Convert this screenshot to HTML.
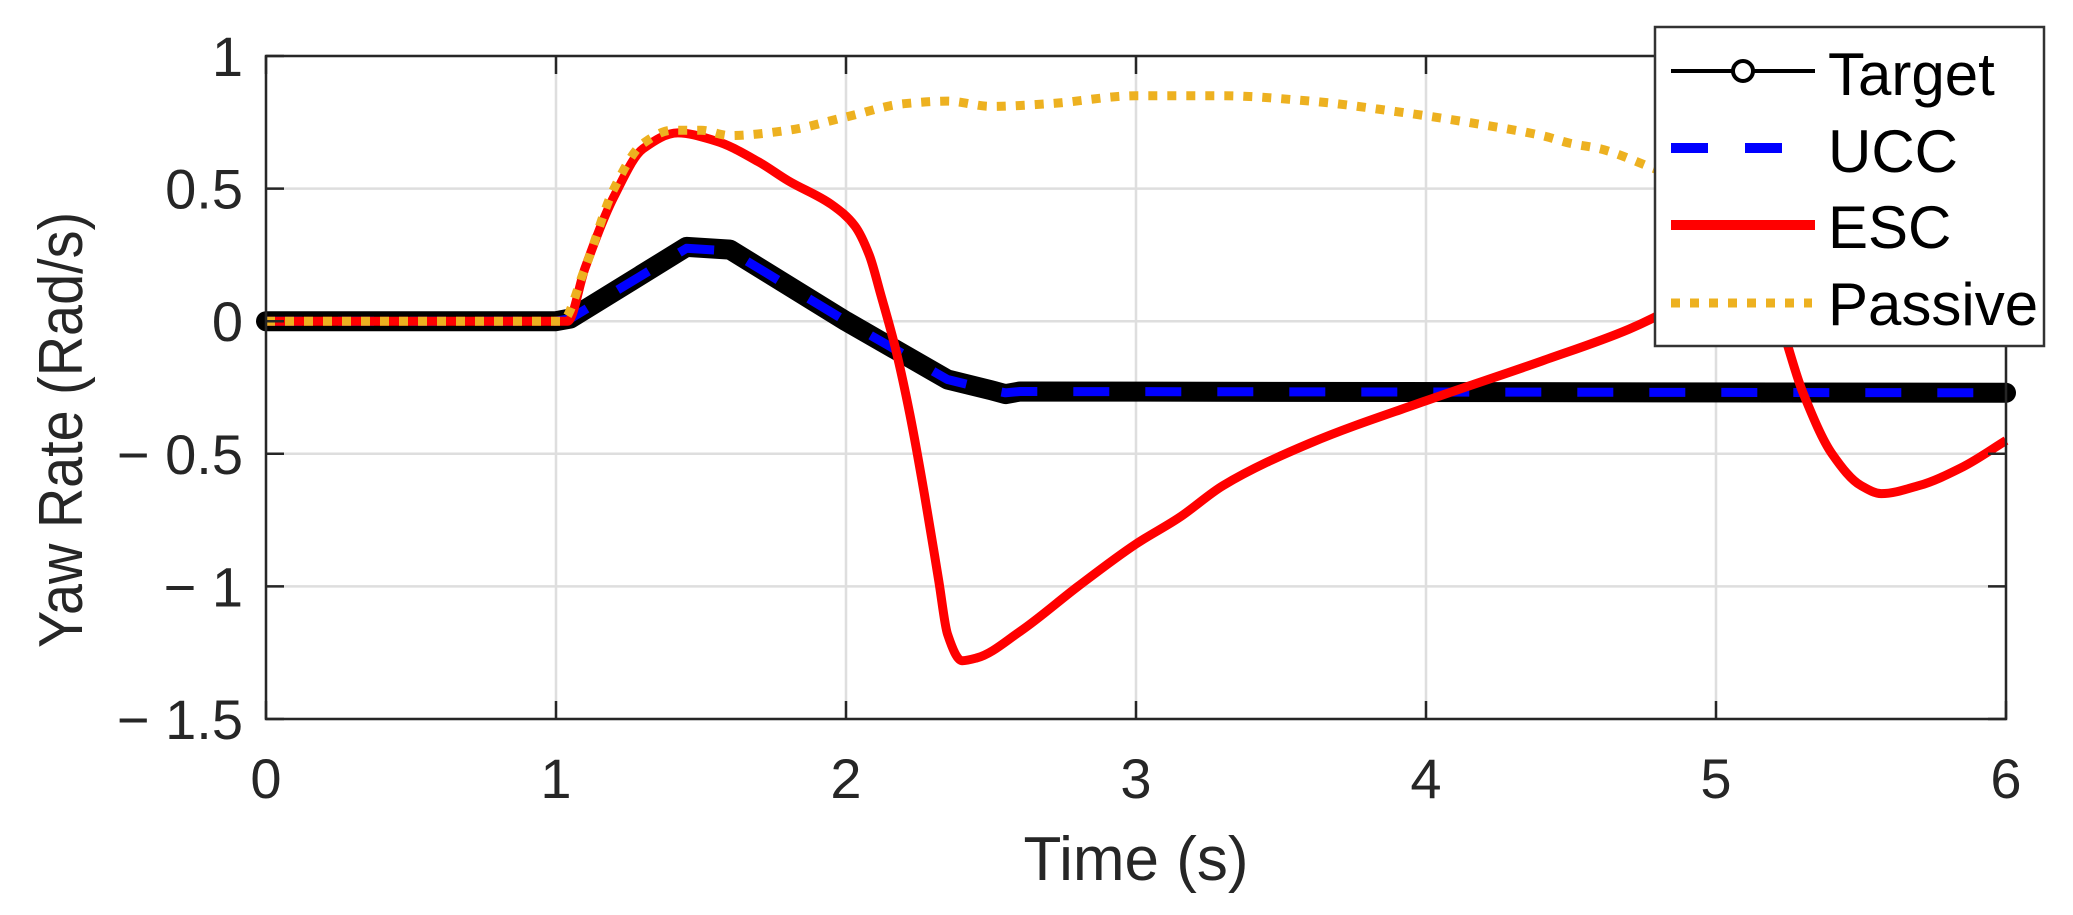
<!DOCTYPE html>
<html><head><meta charset="utf-8"><style>
html,body{margin:0;padding:0;background:#fff;}
svg{display:block;font-family:"Liberation Sans",Arial,sans-serif;}
</style></head><body>
<svg id="chart" width="2073" height="915" viewBox="0 0 2073 915" xmlns="http://www.w3.org/2000/svg">
<rect width="2073" height="915" fill="#fff"/>
<g id="grid"></g>
<g id="series"></g>
<rect x="266" y="56" width="1740" height="663" fill="none" stroke="#262626" stroke-width="2.5"/>
<g id="ticks"></g>
<text x="1136" y="880" font-size="62" text-anchor="middle" fill="#262626">Time (s)</text>
<text transform="translate(82,430) rotate(-90) scale(0.9,1)" font-size="62" text-anchor="middle" fill="#262626">Yaw Rate (Rad/s)</text>
<g>
<rect x="1655" y="27" width="389" height="319" fill="#fff" stroke="#333" stroke-width="2.5"/>
<g>
<line x1="1671" y1="71" x2="1815" y2="71" stroke="#000" stroke-width="4"/>
<circle cx="1743" cy="71" r="10" fill="#fff" stroke="#000" stroke-width="4"/>
<text x="1828" y="95" font-size="60" fill="#000">Target</text></g>
<g>
<line x1="1671" y1="148" x2="1783" y2="148" stroke="#0000ff" stroke-width="10" stroke-dasharray="37 37"/>
<text x="1828" y="172" font-size="60" fill="#000">UCC</text></g>
<g>
<line x1="1671" y1="225" x2="1815" y2="225" stroke="#ff0000" stroke-width="10"/>
<text x="1828" y="248" font-size="60" fill="#000">ESC</text></g>
<g>
<line x1="1671" y1="303" x2="1812" y2="303" stroke="#edb120" stroke-width="9" stroke-dasharray="9 10"/>
<text x="1828" y="325" font-size="60" fill="#000">Passive</text></g>
</g>
</svg>
<script>
const xTicks=[0,1,2,3,4,5,6];
const yTicks=[1,0.5,0,-0.5,-1,-1.5];
const yTickLabels=["1","0.5","0","\u2212 0.5","\u2212 1","\u2212 1.5"];
const targetT=[0,1.0,1.05,1.45,1.6,2.0,2.35,2.5,2.55,2.6,6];
const targetV=[0,0,0.01,0.28,0.27,0.0,-0.22,-0.26,-0.275,-0.265,-0.27];
const uccT=[0,1.0,1.05,1.45,1.6,2.0,2.35,2.5,2.55,2.6,6];
const uccV=[0,0,0.01,0.275,0.265,0.0,-0.22,-0.26,-0.27,-0.265,-0.27];
const escT=[0,1.04,1.1,1.2,1.3,1.42,1.55,1.7,1.8,1.95,2.03,2.08,2.12,2.17,2.22,2.27,2.32,2.35,2.4,2.45,2.6,2.8,3.0,3.15,3.3,3.6,4.0,4.4,4.7,4.85,5.0,5.1,5.2,5.3,5.4,5.5,5.57,5.7,5.85,6];
const escV=[0,0,0.2,0.47,0.65,0.71,0.68,0.6,0.53,0.44,0.36,0.25,0.1,-0.1,-0.35,-0.65,-0.98,-1.18,-1.28,-1.27,-1.17,-1.0,-0.84,-0.74,-0.62,-0.46,-0.3,-0.15,-0.03,0.05,0.15,0.2,0.05,-0.27,-0.5,-0.62,-0.65,-0.62,-0.55,-0.45];
const passiveT=[0,1.02,1.1,1.2,1.3,1.4,1.5,1.6,1.8,2.0,2.2,2.35,2.5,2.7,3.0,3.3,3.6,3.9,4.2,4.4,4.5,4.6,4.8,4.9,5.2,5.6,6];
const passiveV=[0,0,0.2,0.5,0.67,0.72,0.72,0.70,0.72,0.77,0.82,0.83,0.81,0.82,0.85,0.85,0.83,0.79,0.74,0.70,0.67,0.65,0.57,0.53,0.42,0.3,0.2];

const X0=266,X1=2006,Y0=56,Y1=719,xmin=0,xmax=6,ymin=-1.5,ymax=1;
const sx=v=>X0+(v-xmin)/(xmax-xmin)*(X1-X0);
const sy=v=>Y1-(v-ymin)/(ymax-ymin)*(Y1-Y0);
const NS="http://www.w3.org/2000/svg";
function mk(tag,attrs,parent){const e=document.createElementNS(NS,tag);for(const k in attrs)e.setAttribute(k,attrs[k]);parent.appendChild(e);return e;}
const grid=document.getElementById('grid'),ticks=document.getElementById('ticks'),series=document.getElementById('series');
xTicks.forEach((t,i)=>{
  const g=mk('line',{x1:sx(t),x2:sx(t),y1:Y0,y2:Y1,stroke:'#dedede','stroke-width':2.5},grid);
  
  
  const tk=mk('line',{x1:sx(t),x2:sx(t),y1:Y1,y2:Y1-18,stroke:'#262626','stroke-width':2.5},ticks);
  
  
  const tk2=mk('line',{x1:sx(t),x2:sx(t),y1:Y0,y2:Y0+18,stroke:'#262626','stroke-width':2.5},ticks);
  
  
  const tx=mk('text',{x:sx(t),y:798,'font-size':56,'text-anchor':'middle',fill:'#262626'},ticks);
  tx.textContent=String(t);
  
  
});
yTicks.forEach((t,i)=>{
  const g=mk('line',{x1:X0,x2:X1,y1:sy(t),y2:sy(t),stroke:'#dedede','stroke-width':2.5},grid);
  
  
  const tk=mk('line',{x1:X0,x2:X0+18,y1:sy(t),y2:sy(t),stroke:'#262626','stroke-width':2.5},ticks);
  
  
  const tk2=mk('line',{x1:X1,x2:X1-18,y1:sy(t),y2:sy(t),stroke:'#262626','stroke-width':2.5},ticks);
  
  
  const tx=mk('text',{x:243,y:sy(t)+20,'font-size':56,'text-anchor':'end',fill:'#262626'},ticks);
  tx.textContent=yTickLabels[i];
  
  
});
function pts(T,V){return T.map((t,i)=>sx(t).toFixed(1)+','+sy(V[i]).toFixed(1)).join(' ');}
// monotone cubic (Fritsch-Carlson) in x -> no loops
function smooth(T,V){
  const n=T.length,X=T.map(sx),Y=V.map(sy);
  const d=[],m=new Array(n);
  for(let i=0;i<n-1;i++)d.push((Y[i+1]-Y[i])/(X[i+1]-X[i]));
  m[0]=d[0];m[n-1]=d[n-2];
  for(let i=1;i<n-1;i++){
    if(d[i-1]*d[i]<=0)m[i]=0;
    else{const h0=X[i]-X[i-1],h1=X[i+1]-X[i];const w1=2*h1+h0,w2=h1+2*h0;m[i]=(w1+w2)/(w1/d[i-1]+w2/d[i]);}
  }
  let p='M'+X[0].toFixed(1)+','+Y[0].toFixed(1);
  for(let i=0;i<n-1;i++){
    const h=(X[i+1]-X[i])/3;
    p+=' C'+(X[i]+h).toFixed(1)+','+(Y[i]+m[i]*h).toFixed(1)+' '+(X[i+1]-h).toFixed(1)+','+(Y[i+1]-m[i+1]*h).toFixed(1)+' '+X[i+1].toFixed(1)+','+Y[i+1].toFixed(1);
  }
  return p;
}
const pTarget=mk('polyline',{points:pts(targetT,targetV),fill:'none',stroke:'#000','stroke-width':20,'stroke-linejoin':'round','stroke-linecap':'round'},series);


const pUcc=mk('polyline',{points:pts(uccT,uccV),fill:'none',stroke:'#0000ff','stroke-width':9,'stroke-dasharray':'36 36','stroke-linejoin':'round'},series);


const pEsc=mk('path',{d:smooth(escT,escV),fill:'none',stroke:'#ff0000','stroke-width':9,'stroke-linejoin':'round'},series);


const pPas=mk('path',{d:smooth(passiveT,passiveV),fill:'none',stroke:'#edb120','stroke-width':9,'stroke-dasharray':'9 10','stroke-linejoin':'round'},series);


</script>
</body></html>
